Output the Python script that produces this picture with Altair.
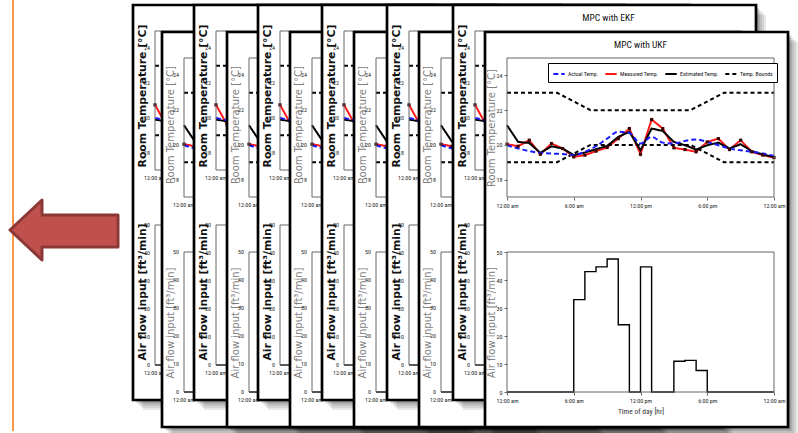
import json
import altair as alt
import pandas as pd

W, H = 798, 433

# ---- MPC with UKF: hourly results over one day ----
hours = list(range(25))
actual_temp = [19.98, 19.79, 19.64, 19.54, 19.50, 19.48, 19.41, 19.60, 19.92, 20.36,
               20.75, 20.69, 20.08, 20.46, 20.13, 20.08, 20.23, 20.31, 20.17, 19.98,
               19.79, 19.69, 19.60, 19.50, 19.37]
measured_temp = [20.04, 19.92, 20.27, 19.46, 20.08, 19.79, 19.31, 19.41, 19.64, 19.85,
                 20.36, 20.94, 19.46, 21.46, 20.94, 19.83, 19.73, 19.60, 20.17, 20.36,
                 19.73, 20.27, 19.60, 19.41, 19.27]
estimated_temp = [21.13, 20.17, 20.11, 19.54, 19.92, 19.79, 19.41, 19.56, 19.75, 19.94,
                  20.46, 20.75, 19.69, 20.94, 20.80, 20.17, 19.98, 19.73, 19.98, 20.13,
                  19.79, 20.04, 19.64, 19.44, 19.31]
air_flow = [0, 0, 0, 0, 0, 0, 33, 43, 44.7, 47.5, 24, 0, 44.7, 0, 0, 11, 11.3, 7.7,
            0, 0, 0, 0, 0, 0, 0]

# comfort band
bound_hours = [0, 4.5, 7.5, 16.5, 19.5, 24]
upper_bound = [23, 23, 22, 22, 23, 23]
lower_bound = [19, 19, 20, 20, 19, 19]

# ---- MPC with EKF: opening hour ----
ekf_hours = [0, 1]
ekf_actual = [20.0, 19.85]
ekf_measured = [20.75, 19.6]
ekf_estimated = [19.9, 19.8]
ekf_air_flow = [0, 0]

series_names = ["Actual Temp.", "Measured Temp.", "Estimated Temp.", "Temp. Bounds"]
series_colors = ["#1a1aff", "#ff1a1a", "#000000", "#000000"]
series_dashes = [[5, 3], [1, 0], [1, 0], [4, 3]]
series_widths = [2.0, 2.0, 2.8, 1.3]

time_ticks = [0, 6, 12, 18, 24]
time_labels = ["12:00 am", "6:00 am", "12:00 pm", "6:00 pm", "12:00 am"]
temp_ticks = [18, 20, 22, 24]
flow_ticks = [0, 10, 20, 30, 40, 50]

# ---- slide layout ----
ekf_lefts = [133, 194, 258, 322, 387, 453]
ukf_lefts = [162, 227, 290, 354, 419, 485]
EKF_TOP, UKF_TOP = 5, 32
SHEET_W, SHEET_H = 303, 395
PLOT_X0, PLOT_X1 = 22, 289
TEMP_Y0, TEMP_Y1 = 165, 26
FLOW_Y0, FLOW_Y1 = 360, 220
SHADOW_STEPS = [1, 2, 3, 4, 6, 8, 10]

arrow_x = [10, 42, 42.01, 118]
arrow_top = [230, 200, 215, 215]
arrow_bottom = [230, 260, 247, 247]
guide_x = [13]

NARROW = "Roboto Condensed, Liberation Sans, sans-serif"
WIDE = "DejaVu Sans, Verdana, sans-serif"
AXIS_GREY = "#666666"
TICK_GREY = "#222222"
TICK_SIZE = 6

PXS = alt.Scale(domain=[0, W], range=[0, W], nice=False, zero=False)
PYS = alt.Scale(domain=[0, H], range=[0, H], nice=False, zero=False)
time_expr = f"{json.dumps(time_labels)}[indexof({json.dumps(time_ticks)}, datum.value)]"


def px(field):
    return alt.X(field, type="quantitative", scale=PXS, axis=None)


def py(field):
    return alt.Y(field, type="quantitative", scale=PYS, axis=None)


def paper(left, top, kind, title, real_axes):
    shadow = pd.DataFrame({
        "x": [left + s for s in SHADOW_STEPS],
        "x2": [left + SHEET_W + s for s in SHADOW_STEPS],
        "y": [top + s for s in SHADOW_STEPS],
        "y2": [top + SHEET_H + s for s in SHADOW_STEPS],
    })
    bg = pd.DataFrame({"x": [left], "x2": [left + SHEET_W], "y": [top], "y2": [top + SHEET_H]})
    out = [
        alt.Chart(shadow).mark_rect(color="black", opacity=0.09).encode(
            x=px("x"), x2="x2:Q", y=py("y"), y2="y2:Q"),
        alt.Chart(bg).mark_rect(fill="white", stroke="black", strokeWidth=2.7).encode(
            x=px("x"), x2="x2:Q", y=py("y"), y2="y2:Q"),
    ]
    if not real_axes:
        if kind == "ekf":
            lab = pd.DataFrame({"x": [left + 10, left + 10], "y": [top + 91, top + 287],
                                "text": ["Room Temperature [°C]", "Air flow input [ft³/min]"]})
            style = dict(font=WIDE, fontSize=10.8, fontWeight="bold", color="#111111")
        else:
            lab = pd.DataFrame({"x": [left + 9, left + 9], "y": [top + 93, top + 291],
                                "text": ["Room Temperature [°C]", "Air flow input [ft³/min]"]})
            style = dict(font=WIDE, fontSize=10, color="#808080")
        out.append(alt.Chart(lab).mark_text(angle=270, baseline="middle", **style).encode(
            x=px("x"), y=py("y"), text="text:N"))
    if title:
        t = pd.DataFrame({"x": [left + (PLOT_X0 + PLOT_X1) / 2], "y": [top + 13], "text": [title]})
        out.append(alt.Chart(t).mark_text(font=NARROW, fontSize=9.5, color="#111111").encode(
            x=px("x"), y=py("y"), text="text:N"))
    return alt.layer(*out)


def x_axis(offset, title=None):
    kw = dict(orient="bottom", offset=offset, values=time_ticks, labelExpr=time_expr,
              domain=False, ticks=True, tickSize=3, tickColor=AXIS_GREY, labelFont=NARROW,
              labelFontSize=TICK_SIZE, labelColor=TICK_GREY, labelPadding=2, labelFlush=False,
              grid=False, zindex=1, title=title)
    if title:
        kw.update(titleFont=NARROW, titleFontSize=7.5, titleFontWeight="normal",
                  titleColor="#333333", titlePadding=4)
    return alt.Axis(**kw)


def y_axis(offset, values, title):
    return alt.Axis(orient="left", offset=offset, values=values, domain=False, ticks=True,
                    tickSize=3, tickColor=AXIS_GREY, labelFont=NARROW, labelFontSize=TICK_SIZE,
                    labelColor=TICK_GREY, labelPadding=2, grid=False, zindex=1, title=title,
                    titleFont=WIDE, titleFontSize=10, titleFontWeight="normal",
                    titleColor="#808080", titleX=-11)


def tick_texts(xs, ys, xfield, yfield, y_values, y_floor):
    # Sheets lower in the stack only show their left edge, so only the
    # first time label is drawn there.
    yt = pd.DataFrame({xfield: [0] * len(y_values), yfield: y_values,
                       "text": [str(v) for v in y_values]})
    xt = pd.DataFrame({xfield: time_ticks[:1], yfield: [y_floor], "text": time_labels[:1]})
    base = dict(font=NARROW, fontSize=TICK_SIZE, color=TICK_GREY)
    return [
        alt.Chart(yt).mark_text(align="right", baseline="middle", dx=-5, **base).encode(
            x=alt.X(f"{xfield}:Q", scale=xs, axis=None),
            y=alt.Y(f"{yfield}:Q", scale=ys, axis=None), text="text:N"),
        alt.Chart(xt).mark_text(align="center", baseline="top", dy=5, **base).encode(
            x=alt.X(f"{xfield}:Q", scale=xs, axis=None),
            y=alt.Y(f"{yfield}:Q", scale=ys, axis=None), text="text:N"),
    ]


def frame_rect(xs, ys, xa, ya, yfield, y_lo, y_hi):
    box = pd.DataFrame({"hour": [0], "hour2": [24], yfield: [y_lo], yfield + "2": [y_hi]})
    return alt.Chart(box).mark_rect(fill="white", fillOpacity=0, stroke=AXIS_GREY, strokeWidth=1).encode(
        x=alt.X("hour:Q", scale=xs, axis=xa), x2="hour2:Q",
        y=alt.Y(f"{yfield}:Q", scale=ys, axis=ya), y2=f"{yfield}2:Q")


def temp_panel(left, top, h, act, meas, est, real_axes):
    xs = alt.Scale(domain=[0, 24], range=[left + PLOT_X0, left + PLOT_X1], nice=False, zero=False)
    ys = alt.Scale(domain=[17, 25], range=[top + TEMP_Y0, top + TEMP_Y1], nice=False, zero=False)
    rows = []
    for hh, a, m, e in zip(h, act, meas, est):
        rows.append({"hour": hh, "temp": a, "series": series_names[0], "part": "actual"})
        rows.append({"hour": hh, "temp": m, "series": series_names[1], "part": "measured"})
        rows.append({"hour": hh, "temp": e, "series": series_names[2], "part": "estimated"})
    for hh, u, lo in zip(bound_hours, upper_bound, lower_bound):
        rows.append({"hour": hh, "temp": u, "series": series_names[3], "part": "upper"})
        rows.append({"hour": hh, "temp": lo, "series": series_names[3], "part": "lower"})
    df = pd.DataFrame(rows)

    if real_axes:
        xa = x_axis(top + TEMP_Y0 - H)
        ya = y_axis(-(left + PLOT_X0), temp_ticks, "Room Temperature [°C]")
        legend = alt.Legend(title=None, orient="none", legendX=548, legendY=63,
                            direction="horizontal", strokeColor="black", fillColor="white",
                            padding=4, columnPadding=2, labelOffset=2, symbolType="stroke",
                            symbolSize=130, labelFont=NARROW, labelFontSize=5.8,
                            labelColor="#111111", zindex=1)
    else:
        xa = ya = legend = None

    def styled(chart):
        return chart.encode(
            x=alt.X("hour:Q", scale=xs, axis=xa),
            y=alt.Y("temp:Q", scale=ys, axis=ya),
            color=alt.Color("series:N", scale=alt.Scale(domain=series_names, range=series_colors), legend=legend),
            strokeDash=alt.StrokeDash("series:N", scale=alt.Scale(domain=series_names, range=series_dashes), legend=legend),
            strokeWidth=alt.StrokeWidth("series:N", scale=alt.Scale(domain=series_names, range=series_widths), legend=legend),
            detail="part:N",
        )

    out = [
        styled(alt.Chart(df).transform_filter(alt.datum.part != "actual").mark_line()),
        styled(alt.Chart(df).transform_filter(alt.datum.part == "actual").mark_line(interpolate="monotone")),
        alt.Chart(df).transform_filter(alt.datum.part == "measured").mark_point(
            shape="square", filled=True, size=10, color="#3a0000", opacity=1).encode(
            x=alt.X("hour:Q", scale=xs, axis=xa), y=alt.Y("temp:Q", scale=ys, axis=ya)),
        frame_rect(xs, ys, xa, ya, "temp", 17, 25),
    ]
    if not real_axes:
        out += tick_texts(xs, ys, "hour", "temp", temp_ticks, 17)
    return alt.layer(*out)


def flow_panel(left, top, h, flow, real_axes):
    xs = alt.Scale(domain=[0, 24], range=[left + PLOT_X0, left + PLOT_X1], nice=False, zero=False)
    ys = alt.Scale(domain=[0, 50], range=[top + FLOW_Y0, top + FLOW_Y1], nice=False, zero=False)
    df = pd.DataFrame({"hour": h, "flow": flow})
    if real_axes:
        xa = x_axis(top + FLOW_Y0 - H, "Time of day [hr]")
        ya = y_axis(-(left + PLOT_X0), flow_ticks, "Air flow input [ft³/min]")
    else:
        xa = ya = None
    out = [alt.Chart(df).mark_line(interpolate="step-after", color="black", strokeWidth=1.4).encode(
               x=alt.X("hour:Q", scale=xs, axis=xa), y=alt.Y("flow:Q", scale=ys, axis=ya)),
           frame_rect(xs, ys, xa, ya, "flow", 0, 50)]
    if not real_axes:
        out += tick_texts(xs, ys, "hour", "flow", flow_ticks, 0)
    return alt.layer(*out)


def sheet(left, top, kind, title=None, real_axes=False):
    if kind == "ekf":
        h, act, meas, est, flow = ekf_hours, ekf_actual, ekf_measured, ekf_estimated, ekf_air_flow
    else:
        h, act, meas, est, flow = hours, actual_temp, measured_temp, estimated_temp, air_flow
    return alt.layer(
        paper(left, top, kind, title, real_axes),
        temp_panel(left, top, h, act, meas, est, real_axes),
        flow_panel(left, top, h, flow, real_axes),
    ).resolve_scale(x="independent", y="independent")


# orange margin line and the arrow pointing at it
guide = alt.Chart(pd.DataFrame({"x": guide_x, "y": [0], "y2": [431]})).mark_rule(
    color="#f79646", strokeWidth=2).encode(x=px("x"), y=py("y"), y2="y2:Q")
arrow = alt.Chart(pd.DataFrame({"x": arrow_x, "top": arrow_top, "bottom": arrow_bottom})).mark_area(
    color="#c0504d", stroke="#8c3836", strokeWidth=3, strokeJoin="round", opacity=1).encode(
    x=px("x"), y=py("top"), y2="bottom:Q")
decor = alt.layer(guide, arrow)

layers = [decor]
for i in range(len(ekf_lefts)):
    last = i == len(ekf_lefts) - 1
    layers.append(sheet(ekf_lefts[i], EKF_TOP, "ekf", title="MPC with EKF" if last else None))
    layers.append(sheet(ukf_lefts[i], UKF_TOP, "ukf", title="MPC with UKF" if last else None,
                        real_axes=last))

chart = alt.layer(*layers).resolve_scale(
    x="independent", y="independent", color="independent",
    strokeDash="independent", strokeWidth="independent",
).properties(
    width=W, height=H, autosize=alt.AutoSizeParams(type="none"), padding=0,
).configure_view(strokeWidth=0)

chart.save("out.html", embed_options={"renderer": "svg", "actions": False})
